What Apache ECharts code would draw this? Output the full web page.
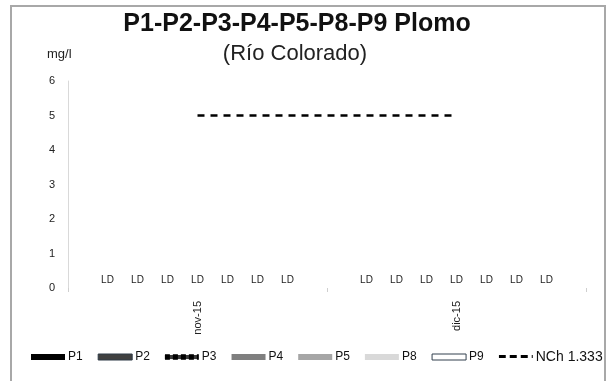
<!DOCTYPE html>
<html>
<head>
<meta charset="utf-8">
<script src="https://cdn.jsdelivr.net/npm/echarts@6/dist/echarts.min.js"></script>
<style>
  html, body { margin: 0; padding: 0; background: #fff; }
  #chart { width: 613px; height: 381px; }
</style>
</head>
<body>
<div id="chart"></div>
<script>
// Sampling months
var categories = ['nov-15', 'dic-15'];

// Lead results per station (all below detection limit, shown as LD)
var P1 = [0, 0];
var P2 = [0, 0];
var P3 = [0, 0];
var P4 = [0, 0];
var P5 = [0, 0];
var P8 = [0, 0];
var P9 = [0, 0];

// Norm limit NCh 1.333 (mg/l)
var nch = [5, 5];

// Y axis ticks
var yTicks = [0, 1, 2, 3, 4, 5, 6];

var stationNames = ['P1', 'P2', 'P3', 'P4', 'P5', 'P8', 'P9'];
var stationValues = [P1, P2, P3, P4, P5, P8, P9];
var limitName = 'NCh 1.333';

// Broken-dash fill used by P3
function makeStripe() {
  var c = document.createElement('canvas');
  c.width = 8; c.height = 6;
  var g = c.getContext('2d');
  g.fillStyle = '#3a3a3a';
  g.fillRect(0, 0, 8, 6);
  g.fillStyle = '#000';
  g.fillRect(0, 1, 5, 4);
  g.fillStyle = '#fff';
  g.fillRect(5, 0, 3, 1);
  g.fillRect(5, 5, 3, 1);
  return c;
}

// Dashed swatch for the limit line in the legend
function makeDash() {
  var c = document.createElement('canvas');
  c.width = 11; c.height = 6;
  var g = c.getContext('2d');
  g.fillStyle = '#fff';
  g.fillRect(0, 0, 11, 6);
  g.fillStyle = '#000';
  g.fillRect(0, 1, 7, 3);
  return c;
}

var fills = [
  { color: '#000000' },
  { color: '#404040' },
  { color: { image: makeStripe(), repeat: 'repeat' } },
  { color: '#7f7f7f' },
  { color: '#a6a6a6' },
  { color: '#d9d9d9' },
  { color: '#ffffff' }
];

var legendStyles = [
  { color: '#000000' },
  { color: '#404040', borderColor: '#2f3a46', borderWidth: 1 },
  { color: { image: makeStripe(), repeat: 'repeat' } },
  { color: '#7f7f7f' },
  { color: '#a6a6a6' },
  { color: '#d9d9d9' },
  { color: '#ffffff', borderColor: '#33404f', borderWidth: 1 }
];

var series = stationNames.map(function (name, i) {
  return {
    name: name,
    type: 'bar',
    data: stationValues[i],
    barWidth: 20,
    barGap: '50%',
    itemStyle: fills[i],
    label: {
      show: true,
      position: 'top',
      distance: 3,
      formatter: 'LD',
      fontFamily: 'Liberation Sans Narrow, Liberation Sans, Arial',
      fontSize: 10,
      color: '#222'
    }
  };
});

series.push({
  name: limitName,
  type: 'line',
  data: nch,
  symbol: 'none',
  lineStyle: { color: '#000', width: 2.5, type: [7, 6] },
  itemStyle: { color: '#000' }
});

var legendData = stationNames.map(function (n, i) {
  return { name: n, icon: 'rect', itemStyle: legendStyles[i] };
}).concat([{
  name: limitName,
  icon: 'rect',
  itemStyle: { color: { image: makeDash(), repeat: 'repeat' } }
}]);

var chart = echarts.init(document.getElementById('chart'), null, { renderer: 'canvas' });
chart.setOption({
  animation: false,
  backgroundColor: '#fff',
  textStyle: { fontFamily: 'Liberation Sans, Arial, sans-serif' },
  title: [
    {
      text: 'P1-P2-P3-P4-P5-P8-P9 Plomo',
      left: 292, top: 7, textAlign: 'center',
      textStyle: { fontSize: 25, fontWeight: 'bold', color: '#111', fontFamily: 'Liberation Sans, Arial' }
    },
    {
      text: '(Río Colorado)',
      left: 290, top: 38, textAlign: 'center',
      textStyle: { fontSize: 22, fontWeight: 'normal', color: '#222', fontFamily: 'Liberation Sans, Arial' }
    },
    {
      text: 'mg/l',
      left: 42, top: 43,
      textStyle: { fontSize: 13, fontWeight: 'normal', color: '#222', fontFamily: 'Liberation Sans, Arial' }
    }
  ],
  legend: {
    bottom: 12,
    left: 26,
    itemWidth: 34,
    itemHeight: 6,
    itemGap: 15,
    textStyle: {
      fontSize: 12, color: '#111', padding: [0, 0, 0, -2],
      rich: { big: { fontSize: 14, color: '#111' } }
    },
    formatter: function (name) {
      return name === limitName ? '{big|' + name + '}' : name;
    },
    data: legendData
  },
  grid: { left: 68, right: 27, top: 81, bottom: 93, containLabel: false },
  xAxis: {
    type: 'category',
    data: categories,
    axisLine: { show: false },
    axisTick: { show: true, length: 4, lineStyle: { color: '#cfcfcf' } },
    axisLabel: { rotate: 90, margin: 13, fontSize: 11, color: '#222' }
  },
  yAxis: {
    type: 'value',
    min: yTicks[0],
    max: yTicks[yTicks.length - 1],
    interval: 1,
    axisLine: { show: true, lineStyle: { color: '#d9d9d9', width: 1 } },
    axisTick: { show: false },
    splitLine: { show: false },
    axisLabel: { margin: 13, fontSize: 11, color: '#222' }
  },
  graphic: [
    {
      type: 'rect',
      shape: { x: 11, y: 6, width: 594, height: 400 },
      style: { fill: 'none', stroke: '#a8a8a8', lineWidth: 2 },
      silent: true
    }
  ],
  series: series
});
</script>
</body>
</html>
